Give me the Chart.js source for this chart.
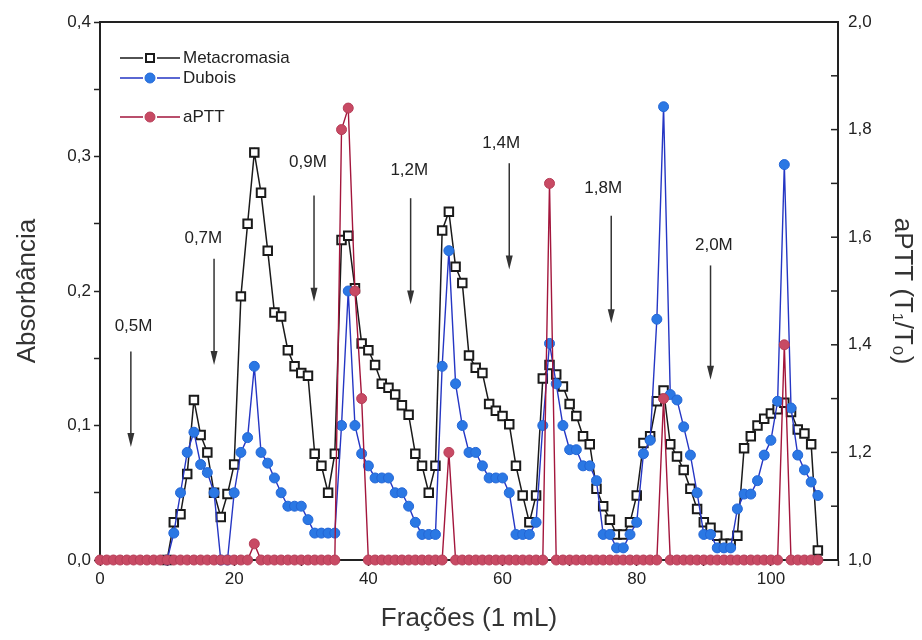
<!DOCTYPE html>
<html>
<head>
<meta charset="utf-8">
<script src="https://cdn.jsdelivr.net/npm/chart.js"></script>
<style>
  html, body { margin: 0; padding: 0; background: #fff; }
  #wrap { width: 922px; height: 640px; }
</style>
</head>
<body>
<div id="wrap"><canvas id="chart" width="922" height="640"></canvas></div>
<script>
// fractions collected (1 mL each)
const fractions = [
  0, 1, 2, 3, 4, 5, 6, 7, 8, 9,
  10, 11, 12, 13, 14, 15, 16, 17, 18, 19,
  20, 21, 22, 23, 24, 25, 26, 27, 28, 29,
  30, 31, 32, 33, 34, 35, 36, 37, 38, 39,
  40, 41, 42, 43, 44, 45, 46, 47, 48, 49,
  50, 51, 52, 53, 54, 55, 56, 57, 58, 59,
  60, 61, 62, 63, 64, 65, 66, 67, 68, 69,
  70, 71, 72, 73, 74, 75, 76, 77, 78, 79,
  80, 81, 82, 83, 84, 85, 86, 87, 88, 89,
  90, 91, 92, 93, 94, 95, 96, 97, 98, 99,
  100, 101, 102, 103, 104, 105, 106, 107
];

// absorbance, left axis
const metacromasia = [
  null, null, null, null, null, null, null, null, null, null,
  0, 0.028, 0.034, 0.064, 0.119, 0.093, 0.080, 0.050, 0.032, 0.049,
  0.071, 0.196, 0.250, 0.303, 0.273, 0.230, 0.184, 0.181, 0.156, 0.144,
  0.139, 0.137, 0.079, 0.070, 0.050, 0.079, 0.238, 0.241, 0.202, 0.161,
  0.156, 0.145, 0.131, 0.128, 0.123, 0.115, 0.108, 0.079, 0.070, 0.050,
  0.070, 0.245, 0.259, 0.218, 0.206, 0.152, 0.143, 0.139, 0.116, 0.111,
  0.107, 0.101, 0.070, 0.048, 0.028, 0.048, 0.135, 0.145, 0.138, 0.129,
  0.116, 0.107, 0.092, 0.086, 0.053, 0.040, 0.030, 0.019, 0.019, 0.028,
  0.048, 0.087, 0.092, 0.118, 0.126, 0.086, 0.077, 0.067, 0.053, 0.038,
  0.028, 0.024, 0.018, 0.012, 0.012, 0.018, 0.083, 0.092, 0.100, 0.105,
  0.109, 0.112, 0.117, 0.110, 0.097, 0.094, 0.086, 0.007
];

const dubois = [
  null, null, null, null, null, null, null, null, null, null,
  0, 0.020, 0.050, 0.080, 0.095, 0.071, 0.065, 0.050, 0, 0,
  0.050, 0.080, 0.091, 0.144, 0.080, 0.072, 0.061, 0.050, 0.040, 0.040,
  0.040, 0.030, 0.020, 0.020, 0.020, 0.020, 0.100, 0.200, 0.100, 0.079,
  0.070, 0.061, 0.061, 0.061, 0.050, 0.050, 0.040, 0.028, 0.019, 0.019,
  0.019, 0.144, 0.230, 0.131, 0.100, 0.080, 0.080, 0.070, 0.061, 0.061,
  0.061, 0.050, 0.019, 0.019, 0.019, 0.028, 0.100, 0.161, 0.131, 0.100,
  0.082, 0.082, 0.070, 0.070, 0.059, 0.019, 0.019, 0.009, 0.009, 0.019,
  0.028, 0.079, 0.089, 0.179, 0.337, 0.123, 0.119, 0.099, 0.078, 0.050,
  0.019, 0.019, 0.009, 0.009, 0.009, 0.038, 0.049, 0.049, 0.059, 0.078,
  0.089, 0.118, 0.294, 0.113, 0.078, 0.067, 0.058, 0.048
];

// aPTT (T1/T0), right axis
const aptt = [
  1.0, 1.0, 1.0, 1.0, 1.0, 1.0, 1.0, 1.0, 1.0, 1.0,
  1.0, 1.0, 1.0, 1.0, 1.0, 1.0, 1.0, 1.0, 1.0, 1.0,
  1.0, 1.0, 1.0, 1.03, 1.0, 1.0, 1.0, 1.0, 1.0, 1.0,
  1.0, 1.0, 1.0, 1.0, 1.0, 1.0, 1.80, 1.84, 1.50, 1.30,
  1.0, 1.0, 1.0, 1.0, 1.0, 1.0, 1.0, 1.0, 1.0, 1.0,
  1.0, 1.0, 1.20, 1.0, 1.0, 1.0, 1.0, 1.0, 1.0, 1.0,
  1.0, 1.0, 1.0, 1.0, 1.0, 1.0, 1.0, 1.70, 1.0, 1.0,
  1.0, 1.0, 1.0, 1.0, 1.0, 1.0, 1.0, 1.0, 1.0, 1.0,
  1.0, 1.0, 1.0, 1.0, 1.30, 1.0, 1.0, 1.0, 1.0, 1.0,
  1.0, 1.0, 1.0, 1.0, 1.0, 1.0, 1.0, 1.0, 1.0, 1.0,
  1.0, 1.0, 1.40, 1.0, 1.0, 1.0, 1.0, 1.0
];

// NaCl steps: arrows (fraction, absorbance top/bottom) and their labels
const saltLabels = ['0,5M', '0,7M', '0,9M', '1,2M', '1,4M', '1,8M', '2,0M'];
const arrowFractions = [4.6, 17.0, 31.9, 46.3, 61.0, 76.2, 91.0];
const arrowTop = [0.155, 0.224, 0.271, 0.269, 0.295, 0.256, 0.219];
const arrowBottom = [0.084, 0.145, 0.192, 0.190, 0.216, 0.176, 0.134];
const labelFractions = [5.0, 15.4, 31.0, 46.1, 59.8, 75.0, 91.5];
const labelValues = [0.174, 0.239, 0.296, 0.290, 0.310, 0.276, 0.234];

const FONT = '"Liberation Sans", Arial, sans-serif';
Chart.defaults.font.family = FONT;
Chart.defaults.color = '#222';

const toPoints = (vals) => fractions.map((f, i) => ({ x: f, y: vals[i] }));
const comma = (v, d) => v.toFixed(d).replace('.', ',');

const saltSteps = {
  id: 'saltSteps',
  afterDatasetsDraw(chart) {
    const { ctx, scales: { x, y } } = chart;
    ctx.save();
    ctx.lineWidth = 1.5;
    ctx.strokeStyle = '#333';
    saltLabels.forEach((lab, i) => {
      const px = x.getPixelForValue(arrowFractions[i]);
      const y0 = y.getPixelForValue(arrowTop[i]);
      const y1 = y.getPixelForValue(arrowBottom[i]);
      ctx.beginPath();
      ctx.moveTo(px, y0);
      ctx.lineTo(px, y1 - 10);
      ctx.stroke();
      ctx.fillStyle = '#333';
      ctx.beginPath();
      ctx.moveTo(px - 3.5, y1 - 14);
      ctx.lineTo(px + 3.5, y1 - 14);
      ctx.lineTo(px, y1);
      ctx.closePath();
      ctx.fill();
      ctx.fillStyle = '#222';
      ctx.font = '17px ' + FONT;
      ctx.textAlign = 'center';
      ctx.textBaseline = 'middle';
      ctx.fillText(lab, x.getPixelForValue(labelFractions[i]), y.getPixelForValue(labelValues[i]));
    });
    ctx.restore();
  }
};

// top frame line + inward ticks on the right axis
const frame = {
  id: 'frame',
  beforeDatasetsDraw(chart) {
    const { ctx, chartArea: a, scales: { y2 } } = chart;
    ctx.save();
    ctx.strokeStyle = '#222';
    ctx.lineWidth = 2;
    ctx.beginPath();
    ctx.moveTo(a.left - 1, a.top);
    ctx.lineTo(a.right + 1, a.top);
    ctx.stroke();
    ctx.lineWidth = 1.5;
    y2.ticks.forEach(t => {
      const py = y2.getPixelForValue(t.value);
      ctx.beginPath();
      ctx.moveTo(a.right, py);
      ctx.lineTo(a.right - 7, py);
      ctx.stroke();
    });
    ctx.restore();
  }
};

const legendRows = [58, 78, 117];
const customLegend = {
  id: 'customLegend',
  afterDraw(chart) {
    const { ctx } = chart;
    ctx.save();
    chart.data.datasets.forEach((ds, i) => {
      const yy = legendRows[i];
      ctx.strokeStyle = ds.borderColor;
      ctx.lineWidth = 1.5;
      ctx.beginPath();
      ctx.moveTo(120, yy); ctx.lineTo(143, yy);
      ctx.moveTo(157, yy); ctx.lineTo(180, yy);
      ctx.stroke();
      ctx.fillStyle = ds.pointBackgroundColor;
      ctx.strokeStyle = ds.pointBorderColor;
      ctx.lineWidth = ds.pointBorderWidth;
      ctx.beginPath();
      if (ds.pointStyle === 'rect') {
        ctx.rect(146, yy - 4, 8, 8);
      } else {
        ctx.arc(150, yy, ds.pointRadius, 0, Math.PI * 2);
      }
      ctx.fill();
      ctx.stroke();
      ctx.fillStyle = '#222';
      ctx.font = '17px ' + FONT;
      ctx.textAlign = 'left';
      ctx.textBaseline = 'middle';
      ctx.fillText(ds.label, 183, yy);
    });
    ctx.restore();
  }
};

new Chart(document.getElementById('chart'), {
  type: 'line',
  data: {
    datasets: [
      {
        label: 'Metacromasia',
        data: toPoints(metacromasia),
        yAxisID: 'y',
        borderColor: '#1a1a1a',
        borderWidth: 1.5,
        pointStyle: 'rect',
        pointRadius: 6,
        pointBackgroundColor: '#ffffff',
        pointBorderColor: '#1a1a1a',
        pointBorderWidth: 2,
        clip: false,
        order: 3
      },
      {
        label: 'Dubois',
        data: toPoints(dubois),
        yAxisID: 'y',
        borderColor: '#2536c4',
        borderWidth: 1.4,
        pointStyle: 'circle',
        pointRadius: 5,
        pointBackgroundColor: '#2b78e4',
        pointBorderColor: '#2466d6',
        pointBorderWidth: 1,
        clip: false,
        order: 2
      },
      {
        label: 'aPTT',
        data: toPoints(aptt),
        yAxisID: 'y2',
        borderColor: '#a3163c',
        borderWidth: 1.4,
        pointStyle: 'circle',
        pointRadius: 5,
        pointBackgroundColor: '#c84a64',
        pointBorderColor: '#b63e58',
        pointBorderWidth: 1,
        clip: false,
        order: 1
      }
    ]
  },
  options: {
    responsive: false,
    animation: false,
    devicePixelRatio: 1,
    layout: { padding: { top: 22, left: 0, right: 0, bottom: 0 } },
    plugins: { legend: { display: false }, tooltip: { enabled: false } },
    elements: { line: { tension: 0 } },
    scales: {
      x: {
        type: 'linear',
        min: 0,
        max: 110,
        afterFit: s => { s.height = 80; },
        ticks: {
          stepSize: 10,
          autoSkip: false,
          maxRotation: 0,
          padding: 3,
          font: { size: 17 },
          color: '#222',
          callback: v => (v % 20 === 0 && v <= 100) ? String(v) : ''
        },
        grid: { drawOnChartArea: false, drawTicks: true, tickLength: 6, tickWidth: 1.5, color: '#222' },
        border: { color: '#222', width: 2 },
        title: { display: true, text: 'Frações (1 mL)', font: { size: 26 }, color: '#333', padding: { top: 0, bottom: 6 } }
      },
      y: {
        position: 'left',
        min: 0,
        max: 0.4,
        afterFit: s => { s.width = 100; },
        ticks: {
          stepSize: 0.05,
          padding: 3,
          font: { size: 17 },
          color: '#222',
          callback: v => Math.round(v * 100) % 10 === 0 ? comma(v, 1) : ''
        },
        grid: { drawOnChartArea: false, drawTicks: true, tickLength: 6, tickWidth: 1.5, color: '#222' },
        border: { color: '#222', width: 2 },
        title: { display: true, text: 'Absorbância', font: { size: 26 }, color: '#333', padding: { top: 12, bottom: 0 } }
      },
      y2: {
        position: 'right',
        min: 1,
        max: 2,
        afterFit: s => { s.width = 84; },
        ticks: {
          stepSize: 0.1,
          padding: 10,
          font: { size: 17 },
          color: '#222',
          callback: v => Math.round(v * 10) % 2 === 0 ? comma(v, 1) : ''
        },
        grid: { drawOnChartArea: false, drawTicks: false },
        border: { color: '#222', width: 2 },
        title: { display: true, text: 'aPTT (T₁/T₀)', font: { size: 26 }, color: '#333', padding: { top: 4, bottom: 0 } }
      }
    }
  },
  plugins: [frame, saltSteps, customLegend]
});
</script>
</body>
</html>
